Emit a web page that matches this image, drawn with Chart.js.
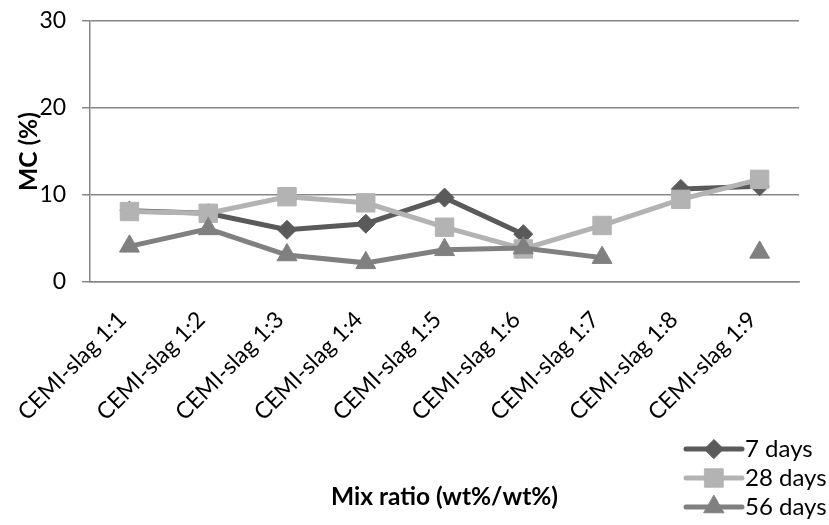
<!DOCTYPE html>
<html>
<head>
<meta charset="utf-8">
<script src="https://cdn.jsdelivr.net/npm/chart.js@4.4.0/dist/chart.umd.min.js"></script>
<style>
html, body { margin: 0; padding: 0; background: #fff; }
#wrap { width: 829px; height: 525px; }
</style>
</head>
<body>
<div id="wrap"><canvas id="c" width="829" height="525"></canvas></div>
<script>
// Mix ratios on the x axis
const categories = [
  'CEMI-slag 1:1', 'CEMI-slag 1:2', 'CEMI-slag 1:3', 'CEMI-slag 1:4', 'CEMI-slag 1:5',
  'CEMI-slag 1:6', 'CEMI-slag 1:7', 'CEMI-slag 1:8', 'CEMI-slag 1:9'
];
// Moisture content (%) per curing age; null = no measurement
const mc7days  = [8.2, 7.9, 6.0, 6.7, 9.7, 5.5, null, 10.7, 11.0];
const mc28days = [8.1, 7.9, 9.8, 9.1, 6.3, 3.8, 6.5, 9.5, 11.8];
const mc56days = [4.1, 6.1, 3.1, 2.2, 3.7, 3.9, 2.8, null, 3.4];
const seriesNames = ['7 days', '28 days', '56 days'];
const yTickValues = [0, 10, 20, 30];

const FONT = 'Lato';
const AXIS_GREY = '#878787';

// Legend stacked in the lower right corner, drawn from the dataset styles
const stackedLegend = {
  id: 'stackedLegend',
  afterDraw(chart) {
    const ctx = chart.ctx;
    const x0 = 686, x1 = 742, tx = 745;
    const rows = [449, 478, 507];
    chart.data.datasets.forEach((ds, i) => {
      const y = rows[i];
      ctx.save();
      ctx.strokeStyle = ds.borderColor;
      ctx.lineWidth = ds.borderWidth;
      ctx.lineCap = 'round';
      ctx.beginPath();
      ctx.moveTo(x0, y);
      ctx.lineTo(x1, y);
      ctx.stroke();
      ctx.fillStyle = ds.pointBackgroundColor;
      ctx.strokeStyle = ds.pointBorderColor;
      ctx.lineWidth = 1;
      Chart.helpers.drawPoint(ctx, {
        pointStyle: ds.pointStyle,
        radius: ds.pointRadius,
        rotation: 0,
        borderWidth: 1
      }, (x0 + x1) / 2, y);
      ctx.fillStyle = '#000';
      ctx.font = '24px ' + FONT;
      ctx.textAlign = 'left';
      ctx.textBaseline = 'middle';
      ctx.fillText(ds.label, tx, y);
      ctx.restore();
    });
  }
};

function series(label, data, color, style, radius, order) {
  return {
    label, data, order,
    borderColor: color,
    backgroundColor: color,
    borderWidth: 5,
    tension: 0,
    spanGaps: false,
    pointStyle: style,
    pointRadius: radius,
    pointHoverRadius: radius,
    pointBackgroundColor: color,
    pointBorderColor: color,
    pointBorderWidth: 1
  };
}

new Chart(document.getElementById('c'), {
  type: 'line',
  data: {
    labels: categories,
    datasets: [
      series(seriesNames[0], mc7days,  '#5a5a5a', 'rectRot', 9.5, 3),
      series(seriesNames[1], mc28days, '#b3b3b3', 'rect', 13, 2),
      series(seriesNames[2], mc56days, '#808080', 'triangle', 11.5, 1)
    ]
  },
  options: {
    responsive: false,
    animation: false,
    devicePixelRatio: 1,
    layout: { padding: { top: 21, right: 30, left: 0, bottom: 0 } },
    plugins: {
      legend: { display: false },
      tooltip: { enabled: false }
    },
    scales: {
      x: {
        offset: true,
        grid: { drawOnChartArea: false, drawTicks: false },
        border: { display: true, color: AXIS_GREY, width: 1.5 },
        ticks: {
          autoSkip: false, minRotation: 45, maxRotation: 45,
          color: '#000', padding: 24, labelOffset: -7,
          font: { family: FONT, size: 23 }
        },
        title: {
          display: true, text: 'Mix ratio (wt%/wt%)', color: '#000',
          font: { family: FONT, size: 24.5, weight: 'bold' },
          padding: { top: 0, bottom: 13 }
        },
        afterFit(s) { s.height = 243; s.paddingRight = 0; }
      },
      y: {
        min: 0, max: 30,
        afterBuildTicks(s) { s.ticks = yTickValues.map(v => ({ value: v })); },
        grid: { color: AXIS_GREY, lineWidth: 1.5, tickLength: 8, drawTicks: true },
        border: { color: AXIS_GREY, width: 1.5 },
        ticks: { color: '#000', padding: 16, font: { family: FONT, size: 23 } },
        title: {
          display: true, text: 'MC (%)', color: '#000',
          font: { family: FONT, size: 24.5, weight: 'bold' },
          padding: { top: 14, bottom: 0 }
        },
        afterFit(s) { s.width = 90; s.paddingTop = 0; s.paddingBottom = 0; }
      }
    }
  },
  plugins: [stackedLegend]
});
</script>
</body>
</html>
